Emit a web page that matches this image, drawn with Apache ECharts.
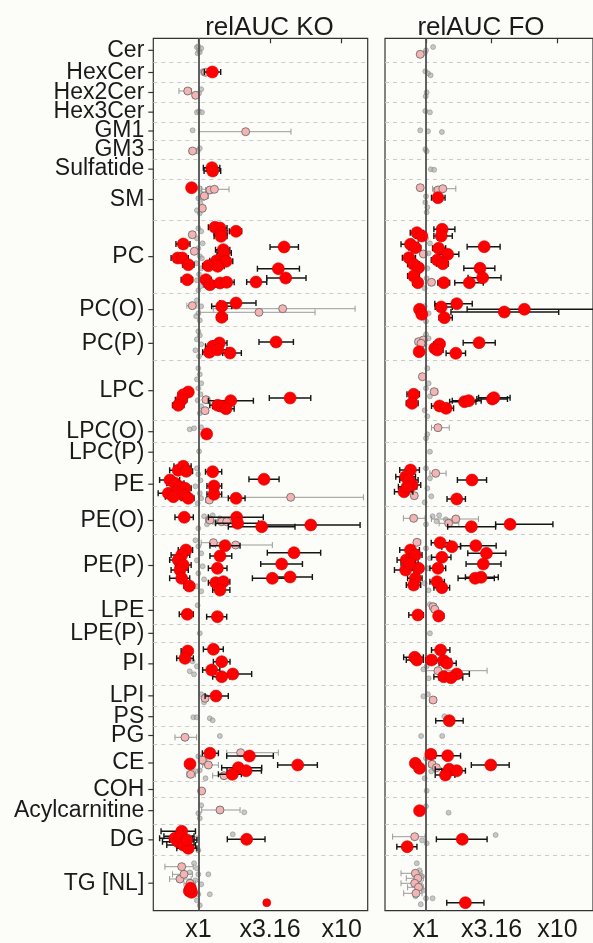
<!DOCTYPE html>
<html><head><meta charset="utf-8">
<script src="https://cdn.jsdelivr.net/npm/echarts@6/dist/echarts.min.js"></script>
<style>html,body{margin:0;padding:0;background:#fcfcf8}#c{width:593px;height:943px}</style>
</head><body><div id="c"></div><script>
// ---------- categories (top to bottom) and their relative band heights ----------
const classNames = ['Cer','HexCer','Hex2Cer','Hex3Cer','GM1','GM3','Sulfatide','SM','PC','PC(O)','PC(P)','LPC','LPC(O)','LPC(P)','PE','PE(O)','PE(P)','LPE','LPE(P)','PI','LPI','PS','PG','CE','COH','Acylcarnitine','DG','TG [NL]'];
const classHeights = [24,20.4,19.6,19.7,18,19.3,19.7,41,73.3,32.7,34.7,60,22,19,45,27.6,62.4,27.3,18.7,42.3,21.7,20,17.6,37.4,15.6,26.7,31.7,55];
const panelTitles = ['relAUC KO','relAUC FO'];
const tickLabels = ['x1','x3.16','x10'];
const tickLog10 = [0, 0.5, 1];
const koLogRange = [-0.314, 1.181];
const foLogRange = [-0.312, 1.271];

// ---------- points: [log10 relAUC, row position, lower CI, upper CI] ----------
const koGrey = [[-0.01,9],[0.005,12],[0.02,10],[-0.005,15],[0.01,14],[0,8],[0.03,33],[0.04,35],[0.02,51],[0.005,55],[-0.01,74],[0.005,73],[0.025,74],[-0.04,92],[0.01,110],[-0.005,113],[0.06,131],[0.13,131],
[0.01,150],[0.02,155],[0,160],[0.015,165],[0.03,160],[-0.01,172],[0.01,175],
[0,190],[0.02,193],[-0.01,200],[0.03,205],[0,210],[0.01,218],[-0.015,225],[0.02,230],[0.005,236],[-0.01,242],[0.015,248],[0.025,220],[0,252],
[-0.01,262],[0.02,268],[0,275],[0.01,282],[-0.015,278],
[0,293],[0.01,297],[-0.01,301],[0.02,306],[-0.02,312],[0.005,318],
[0,330],[0.01,336],[-0.01,341],[0.02,345],[0,350],[0.015,356],[-0.005,362],[0.02,368],[0.01,375],
[-0.06,391],[-0.03,390],[0.02,389],[0.005,413],
[-0.01,430],[0,436],[0.015,442],[-0.02,448],[0.01,455],[0.02,460],[-0.005,465],
[0.04,478],[0.1,477],[0.15,480],[0.12,484],[0.06,486],[0.2,482],[0,490],
[-0.02,502],[0,508],[0.02,515],[-0.01,522],[0.03,528],[0,535],[0.04,541],[-0.01,548],[0.02,553],
[-0.005,567],[0.01,595],[-0.04,623],[-0.06,633],[-0.03,636],[-0.01,628],[0.02,656],[0.04,664],
[-0.035,679],[-0.012,679],[0.08,680],[0.1,682],[0.15,697.7],
[0,718],[0.03,724],[0.01,732],[0.05,740],[-0.02,733],
[0.02,767],[0,775],[0.32,774],[0.01,780],[0.24,796],[-0.01,800],[0,812],
[-0.03,825],[-0.01,830],[0,836],[-0.02,842],[0.02,846],[0.07,836],[-0.04,850],[0,856],[0.08,856],[-0.01,862],[0.01,867],[-0.06,834]];
const koPink = [[0.05,34,0.02,0.08],[-0.074,52.7,-0.135,-0.047],[-0.019,57,-0.035,-0.005],[0.33,93.4,0.005,0.646],[-0.04,112.7,-0.063,-0.012],
[0.081,151.7,0.05,0.11],[0.112,151,0.023,0.214],[0.042,157.7,0.02,0.07],[0.028,170,0.01,0.045],
[-0.042,196.4,-0.06,-0.02],[-0.028,213,-0.045,-0.01],
[-0.042,267.4,-0.08,-0.01],[0.588,270.4,0.105,1.093],[0.423,274,0.012,0.814],
[0.053,361.4,0.03,0.08],[0.047,372.4,0.02,0.07],
[0.077,461.7,0.05,0.1],[0.644,459,0.081,1.151],
[0.081,481.7,0.05,0.15],[0.163,483.4,0.1,0.3],[0.198,483.4,0.12,0.3],
[0.105,504.4,0.02,0.2],[0.26,506.7,0.12,0.516],
[0.047,660,0.03,0.07],[-0.093,699,-0.163,-0.012],
[0.295,714.4,0.198,0.558],[0.028,721.7,0,0.06],[0.07,726.7,0.03,0.14],[-0.053,736,-0.08,-0.02],[0.179,737.4,0.1,0.25],
[0.023,752.7,0.01,0.035],[0.151,771.7,0.023,0.291],
[-0.116,828.4,-0.233,-0.035],[-0.128,840.7,-0.2,-0.05],[-0.058,845,-0.1,-0.02],[-0.1,836,-0.18,-0.04]];
const koRed = [[0.098,33.7,0.042,0.156],[0.095,129.4,0.035,0.15],[0.1,132.7,0.04,0.156],[-0.047,149.4,-0.06,-0.035],
[0.116,189,0.07,0.16],[0.151,189.7,0.1,0.2],[0.158,194.7,0.11,0.2],[0.263,193,0.216,0.302],
[0.158,198,0.11,0.2],[-0.105,205.7,-0.156,-0.058],[0.598,208.7,0.5,0.698],
[0.174,211.4,0.12,0.22],[0.179,214.7,0.13,0.23],
[-0.144,219.7,-0.19,-0.1],[-0.112,219.7,-0.16,-0.07],[-0.07,226.4,-0.11,-0.03],
[0.128,222.4,0.08,0.17],[0.193,223,0.14,0.24],[0.07,227.4,0.03,0.11],[0.135,228,0.09,0.18],
[0.558,230.4,0.412,0.705],
[-0.077,241.4,-0.12,-0.04],[0.053,241.4,0.02,0.09],[0.081,246.4,0.04,0.12],[0.151,244.7,0.11,0.19],[0.198,244,0.15,0.25],
[0.402,243.7,0.337,0.477],[0.609,239.7,0.477,0.751],
[0.163,268,0.093,0.233],[0.263,264.7,0.151,0.402],[0.163,279,0.13,0.2],
[0.542,303.7,0.423,0.663],[0.147,304.7,0.1,0.2],[0.1,308,0.05,0.15],[0.077,314,0.03,0.12],[0.135,311.4,0.09,0.2],[0.221,314.7,0.17,0.3],
[-0.07,353.7,-0.1,-0.04],[-0.105,356.4,-0.14,-0.07],[-0.116,361.4,-0.16,-0.08],[-0.14,367,-0.18,-0.1],[0.64,359.7,0.495,0.784],[0.226,362.4,0.07,0.384],[0.135,367,0.08,0.19],[0.163,368,0.1,0.22],[0.193,370.4,0.14,0.25],
[0.058,395.7,0.04,0.08],
[-0.14,432,-0.2,-0.08],[-0.105,428,-0.17,-0.05],[-0.084,433,-0.13,-0.04],[-0.198,441.7,-0.27,-0.13],[-0.163,445,-0.22,-0.1],[-0.128,448.4,-0.18,-0.08],[-0.093,450,-0.14,-0.05],[-0.209,455,-0.28,-0.14],[-0.151,453.4,-0.2,-0.1],[-0.105,456.7,-0.15,-0.06],[-0.07,460,-0.12,-0.03],[-0.174,458.4,-0.23,-0.12],
[0.1,433.4,0.05,0.163],[0.109,447.7,0.06,0.163],[0.109,456,0.06,0.163],[0.458,441,0.353,0.563],[0.263,460,0.209,0.326],
[-0.098,479,-0.163,-0.035],[0.267,479,0.07,0.453],[0.274,485,0.12,0.42],[0.442,488.4,0.209,0.674],[0.784,486.7,0.43,1.128],
[0.186,507.4,0.081,0.291],[0.667,514.4,0.481,0.853],[0.151,517.7,0.081,0.233],[0.581,525.7,0.435,0.726],[0.133,530,0.07,0.2],[0.516,540,0.377,0.65],[0.64,538.7,0.5,0.795],[0.121,544.4,0.07,0.17],[0.174,543.4,0.12,0.22],[0.151,551.7,0.1,0.22],
[-0.086,511.7,-0.14,-0.04],[-0.116,516.7,-0.19,-0.06],[-0.14,521.7,-0.2,-0.09],[-0.105,526.7,-0.16,-0.05],[-0.128,531.7,-0.19,-0.07],[-0.116,540,-0.2,-0.06],[-0.063,547.7,-0.1,-0.03],
[-0.077,576,-0.133,-0.035],[0.133,578.4,0.058,0.198],
[-0.074,612.7,-0.12,-0.04],[-0.093,620,-0.151,-0.035],[0.105,611,0.035,0.174],[0.163,623.4,0.105,0.221],[0.093,631.7,0.03,0.15],[0.163,638.4,0.1,0.22],[0.24,635.7,0.15,0.372],
[0.123,657.7,0.047,0.209],
[0.081,715,0.028,0.14],[0.356,717.7,0.198,0.523],[-0.058,725.7,-0.09,-0.03],[0.693,726.7,0.553,0.83],[0.279,729.4,0.163,0.442],[0.333,732.4,0.2,0.44],[0.237,736,0.14,0.3],
[-0.116,793,-0.26,-0.02],[-0.163,800,-0.27,-0.04],[-0.14,803.4,-0.25,-0.03],[-0.105,806.7,-0.22,-0.02],[-0.07,810,-0.15,-0.01],[-0.128,798,-0.24,-0.03],[-0.081,801.7,-0.2,-0.01],[0.337,801,0.202,0.465],
[-0.063,852.7,-0.09,-0.04],[-0.047,854,-0.08,-0.02],[-0.055,850,-0.08,-0.03]];
const koRedSmall = [[0.477,864.4]];

const foGrey = [[0.054,8.7],[0,12],[-0.01,15],[-0.005,33],[0.015,35],[0.035,37],[0.005,54],[-0.002,58],[-0.005,72.7],[0.03,74],[-0.044,92],[0.015,93],[0.121,93.7],[-0.005,111],[0.005,113],[0.037,131],[0.062,131.5],
[-0.005,164],[0.01,169],[0.005,174],[0,158],
[0,200],[0.02,215],[0.01,230],[-0.01,250],[0.03,205],[0.005,240],
[-0.01,268],[0.02,275],[0,283],[0,296],[0.02,300],[-0.01,306],
[0.01,330],[0.02,345],[0,350],[0.03,358],[-0.01,372],[0.01,378],[0.01,396],[0,400],[0.03,413.4],
[0,430],[0.03,440],[0.01,450],[0.04,458],[-0.01,464],
[0.05,478],[0.1,477],[0.08,483],[0,486],[0.15,481],
[0,510],[0.03,520],[0.01,530],[-0.01,545],[0.02,552],
[0.03,566],[0.08,571],[0.03,595],[-0.02,631],[0.005,628],[0.02,640],[-0.02,658],[0.015,656],[0.14,678],[-0.037,697.7],[0.123,697.7],
[0,720],[0.04,733],[-0.01,740],[0.005,752.4],[0.172,774.4],[0,768],[0.53,796.7],[0.005,805],[-0.03,802],
[-0.07,825],[-0.05,832],[-0.03,838],[-0.06,846],[-0.02,852],[0,860],[0.05,860],[-0.04,866],[-0.08,858]];
const foPink = [[-0.044,16,-0.06,-0.025],
[-0.044,149.4,-0.06,-0.02],[0.091,151.7,0.06,0.12],[0.128,150.4,0.05,0.227],
[-0.02,215.7,-0.04,0],[0.042,244,0.02,0.065],
[-0.057,303.4,-0.08,-0.03],[-0.02,301.7,-0.04,0],[-0.037,305,-0.06,-0.01],
[-0.027,338.4,-0.04,-0.01],[0.062,353.4,0.04,0.09],[0.091,389.4,0.042,0.177],
[0.074,435,0.03,0.153],[-0.089,457.4,-0.11,-0.07],
[-0.094,480,-0.172,-0.007],[0.227,480.7,0.042,0.399],[0.172,485,0.1,0.25],
[-0.069,504,-0.09,-0.04],[0.054,568.4,0.03,0.08],[0.067,571,0.04,0.09],
[0.091,632.4,0,0.465],[0.054,661.7,0.03,0.08],
[0.047,726,0.02,0.07],[0.079,729.4,0.05,0.1],
[-0.086,798.4,-0.254,-0.007],
[-0.081,835,-0.19,-0.03],[-0.062,840,-0.15,-0.02],[-0.086,845,-0.19,-0.03],[-0.057,849,-0.14,-0.02],[-0.076,855,-0.17,-0.03]];
const foRed = [[0.091,159.4,0.042,0.145],
[-0.069,194.4,-0.12,-0.02],[-0.032,197.7,-0.08,0],[-0.118,206,-0.19,-0.06],[-0.081,209.4,-0.13,-0.04],[-0.13,219.4,-0.18,-0.08],[-0.094,226,-0.14,-0.05],[-0.057,229.4,-0.1,-0.02],[-0.094,237.7,-0.14,-0.05],[-0.062,244.4,-0.1,-0.03],
[0.123,191,0.06,0.22],[0.116,197.7,0.06,0.2],[0.096,210,0.05,0.15],[0.165,216,0.1,0.25],[0.086,221.7,0.04,0.13],[0.128,225.4,0.08,0.17],[0.135,244.4,0.09,0.18],[0.443,208.4,0.313,0.564],[0.411,230,0.288,0.524],[0.431,239.4,0.32,0.571],[0.33,244.4,0.219,0.436],
[-0.049,271,-0.07,-0.03],[-0.032,276,-0.05,-0.01],[0.116,268.7,0.07,0.2],[0.234,265.4,0.067,0.352],[0.596,273.7,0.19,1.01],[0.749,271,0.313,1.35],[0.14,279.4,0.1,0.2],
[0.404,304.4,0.283,0.527],[-0.052,313.4,-0.08,-0.03],[0.067,310,0.04,0.1],[0.103,305.7,0.06,0.14],[0.086,311.7,0.05,0.13],[0.227,315,0.153,0.301],
[-0.094,356,-0.145,-0.05],[-0.106,365,-0.15,-0.06],[0.103,367.7,0.042,0.17],[0.153,370,0.1,0.21],[0.293,363.4,0.18,0.38],[0.325,362.4,0.2,0.42],[0.505,360.7,0.387,0.62],[0.517,359.4,0.4,0.64],
[-0.118,431.7,-0.2,-0.05],[-0.155,438.4,-0.23,-0.08],[-0.106,446.7,-0.17,-0.04],[-0.167,453.4,-0.24,-0.1],[-0.13,441.7,-0.2,-0.06],[-0.143,448.4,-0.21,-0.07],[0.35,441.7,0.239,0.461],[0.234,460.7,0.16,0.3],
[0.345,488.4,0.165,0.53],[0.64,486,0.53,0.966],
[0.108,504.4,0.04,0.18],[0.197,508.4,0.12,0.263],[0.379,507.4,0.263,0.534],[0.46,515,0.318,0.608],[0.121,519,0.042,0.19],[0.436,525.7,0.305,0.571],[0.091,530,0.03,0.15],[0.374,540,0.244,0.52],[0.419,539,0.3,0.55],[0.084,543.4,0.03,0.14],[0.121,549.4,0.06,0.18],
[-0.118,511.7,-0.2,-0.05],[-0.081,516.7,-0.14,-0.03],[-0.15,521.7,-0.22,-0.08],[-0.057,530,-0.1,-0.02],[-0.155,531.7,-0.24,-0.09],[-0.081,540,-0.14,-0.03],[-0.094,546.7,-0.15,-0.04],[-0.126,525,-0.19,-0.06],
[-0.062,576.7,-0.131,-0.02],[0.096,577.7,0.067,0.135],
[0.111,611.7,0.042,0.182],[-0.086,619,-0.17,-0.02],[-0.069,621.7,-0.15,-0.02],[0.042,621.7,0,0.1],[0.135,622.4,0.08,0.19],[0.16,625,0.1,0.23],[0.234,635.7,0.15,0.33],[0.135,638.4,0.06,0.21],[0.19,639.4,0.1,0.28],
[0.177,682.4,0.074,0.283],
[0.037,716,0.01,0.07],[0.165,717.4,0.072,0.263],[-0.081,725,-0.11,-0.05],[-0.049,730,-0.08,-0.02],[0.493,726.7,0.345,0.633],[0.177,731,0.07,0.26],[0.234,732.4,0.12,0.3],[0.148,736.7,0.07,0.22],
[-0.049,772.4,-0.07,-0.03],
[-0.143,808.4,-0.222,-0.069],[0.276,801,0.079,0.465],
[0.3,864.4,0.158,0.441]];

// ---------- derived band layout ----------
const bounds = [0];
classHeights.forEach(h => bounds.push(+(bounds[bounds.length-1] + h).toFixed(2)));
const total = bounds[bounds.length-1];
const centers = classHeights.map((h,i) => +(bounds[i] + h/2).toFixed(2));
const innerBounds = bounds.slice(1, -1);

const FONT = 'Liberation Sans, Arial, Helvetica, sans-serif';
const chart = echarts.init(document.getElementById('c'), null, {renderer:'canvas'});

function errRender(color, lw, cap) {
  return function (params, api) {
    const y = api.value(1);
    const a = api.coord([api.value(2), y]);
    const b = api.coord([api.value(3), y]);
    const st = {stroke: color, lineWidth: lw};
    return {type:'group', children:[
      {type:'line', shape:{x1:a[0],y1:a[1],x2:b[0],y2:b[1]}, style:st},
      {type:'line', shape:{x1:a[0],y1:a[1]-cap,x2:a[0],y2:a[1]+cap}, style:st},
      {type:'line', shape:{x1:b[0],y1:b[1]-cap,x2:b[0],y2:b[1]+cap}, style:st}
    ]};
  };
}

const grids = [
  {left:153.3, top:38.3, width:214.4, height:872.4},
  {left:385, top:38.3, width:214.4, height:872.4}
];
const ranges = [koLogRange, foLogRange];
const panels = [
  {grey:koGrey, pink:koPink, red:koRed, small:koRedSmall},
  {grey:foGrey, pink:foPink, red:foRed, small:[]}
];

const xAxes = ranges.map((r,i) => ({
  type:'value', gridIndex:i, min:r[0], max:r[1],
  axisLine:{show:false}, splitLine:{show:false},
  axisTick:{show:true, customValues:tickLog10, length:5, lineStyle:{color:'#333', width:1.2}},
  axisLabel:{show:true, customValues:tickLog10, showMinLabel:true, showMaxLabel:true, hideOverlap:false, margin:7, fontSize:25, fontFamily:FONT, color:'#1a1a1a',
    formatter: v => { let k=0; tickLog10.forEach((t,j)=>{ if(Math.abs(t-v)<Math.abs(tickLog10[k]-v)) k=j; }); return tickLabels[k]; }}
}));
const yAxes = [0,1].map(i => ({
  type:'value', gridIndex:i, min:0, max:total, inverse:true,
  axisLine:{show:false}, splitLine:{show:false}, axisTick:{show:false}, axisLabel:{show:false}
}));

const series = [];
panels.forEach((p,i) => {
  const base = {xAxisIndex:i, yAxisIndex:i, animation:false, silent:true};
  series.push(Object.assign({}, base, {
    type:'scatter', z:1, symbolSize:5, data:p.grey.map(d=>[d[0],d[1]]),
    itemStyle:{color:'rgba(170,170,170,0.65)', borderColor:'rgba(120,120,120,0.75)', borderWidth:0.6, opacity:1},
    markLine:{silent:true, symbol:['none','none'], label:{show:false}, animation:false,
      lineStyle:{color:'#cbcbcb', type:[4,4], width:1}, data:innerBounds.map(b=>({yAxis:b}))}
  }));
  series.push(Object.assign({}, base, {
    type:'scatter', z:2, data:[],
    markLine:{silent:true, symbol:['none','none'], label:{show:false}, animation:false,
      lineStyle:{color:'#505050', type:'solid', width:1.8}, data:[{xAxis:0}]}
  }));
  series.push(Object.assign({}, base, {
    type:'custom', z:3, clip:true, renderItem:errRender('#9a9a9a',1,3), encode:{x:[0,2,3], y:1}, data:p.pink
  }));
  series.push(Object.assign({}, base, {
    type:'scatter', z:4, symbolSize:8, data:p.pink.map(d=>[d[0],d[1]]),
    itemStyle:{color:'#f6b3b3', borderColor:'#6e6e6e', borderWidth:0.9, opacity:1}
  }));
  series.push(Object.assign({}, base, {
    type:'custom', z:5, clip:true, renderItem:errRender('#151515',1.4,3), encode:{x:[0,2,3], y:1}, data:p.red
  }));
  series.push(Object.assign({}, base, {
    type:'scatter', z:6, symbolSize:12, data:p.red.map(d=>[d[0],d[1]]),
    itemStyle:{color:'#ff0000', borderColor:'#d40000', borderWidth:0.6, opacity:1}
  }));
  if (p.small.length) series.push(Object.assign({}, base, {
    type:'scatter', z:6, symbolSize:8, data:p.small,
    itemStyle:{color:'#ff0000', borderColor:'#d40000', borderWidth:0.6, opacity:1}
  }));
});

chart.setOption({
  backgroundColor:'#fcfcf8',
  animation:false,
  grid: grids.map(g => Object.assign({show:true, borderColor:'#333', borderWidth:1.2, backgroundColor:'transparent', containLabel:false}, g)),
  xAxis: xAxes,
  yAxis: yAxes,
  series: series
});

// category labels and ticks placed through the y scale of the first panel
const axisX = grids[0].left;
const graphics = [
  {type:'text', x:269.5, y:27.5, style:{text:panelTitles[0], font:'26px '+FONT, fill:'#1a1a1a', textAlign:'center', textVerticalAlign:'middle'}},
  {type:'text', x:481, y:27.5, style:{text:panelTitles[1], font:'26px '+FONT, fill:'#1a1a1a', textAlign:'center', textVerticalAlign:'middle'}}
];
centers.forEach((c, j) => {
  const py = chart.convertToPixel({yAxisIndex:0}, c);
  graphics.push({type:'line', silent:true, shape:{x1:axisX-5, y1:py, x2:axisX, y2:py}, style:{stroke:'#333', lineWidth:1.2}});
  graphics.push({type:'text', silent:true, x:axisX-9, y:py, style:{text:classNames[j], font:'23px '+FONT, fill:'#1a1a1a', textAlign:'right', textVerticalAlign:'middle'}});
});
chart.setOption({graphic: graphics});
</script></body></html>
